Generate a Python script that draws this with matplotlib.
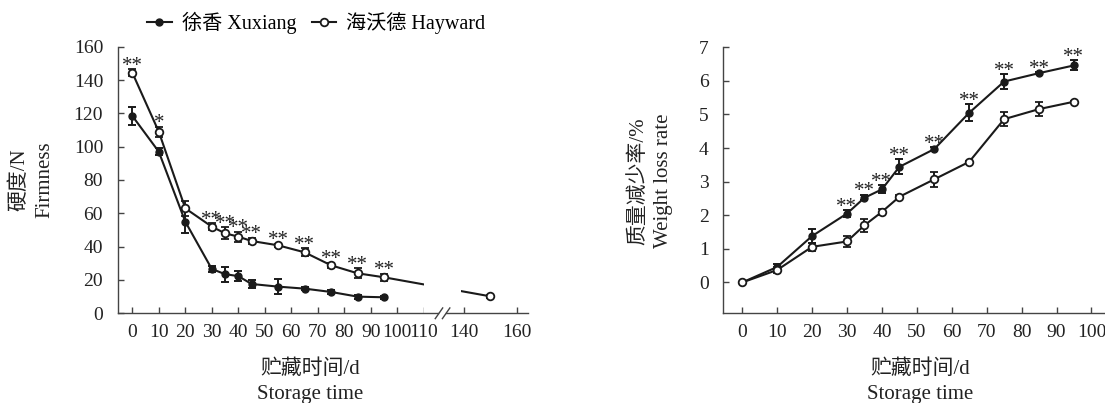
import numpy as np
import matplotlib
matplotlib.use("Agg")
import matplotlib.pyplot as plt

plt.rcParams['font.family'] = ['Liberation Serif', 'Noto Sans CJK SC']
plt.rcParams['axes.unicode_minus'] = False

# ---- firmness (left) ----
firm_days_x = [0, 10, 20, 30, 35, 40, 45, 55, 65, 75, 85, 95]
firm_xuxiang = [118.5, 97, 55, 26.6, 23.5, 22.3, 17.6, 16, 14.8, 12.8, 10, 9.6]
firm_xuxiang_err = [5.5, 2, 7, 2, 4.5, 3, 2.2, 4.4, 1, 1, 1.2, 1]

firm_days_h = [0, 10, 20, 30, 35, 40, 45, 55, 65, 75, 85, 95, 150]
firm_hayward = [144.5, 109, 63, 52, 48, 46, 43.4, 40.8, 36.6, 28.8, 24, 21.6, 10.2]
firm_hayward_err = [2, 3, 4.5, 2, 3.5, 3, 2, 1, 2.5, 1.5, 3, 2, 1]
firm_sig = ['**', '*', '', '**', '**', '**', '**', '**', '**', '**', '**', '**', '']

firm_ticks = [0, 10, 20, 30, 40, 50, 60, 70, 80, 90, 100, 110, 140, 160]

# ---- weight loss (right) ----
wl_days = [0, 10, 20, 30, 35, 40, 45, 55, 65, 75, 85, 95]
wl_xuxiang = [0, 0.46, 1.38, 2.05, 2.52, 2.77, 3.44, 3.97, 5.05, 5.98, 6.23, 6.46]
wl_xuxiang_err = [0.02, 0.1, 0.2, 0.1, 0.08, 0.12, 0.22, 0.05, 0.25, 0.22, 0.03, 0.15]
wl_hayward = [0, 0.37, 1.06, 1.22, 1.7, 2.1, 2.55, 3.07, 3.59, 4.86, 5.16, 5.38]
wl_hayward_err = [0.02, 0.1, 0.12, 0.15, 0.2, 0.1, 0.04, 0.22, 0.03, 0.2, 0.22, 0.03]
wl_sig = ['', '', '', '**', '**', '**', '**', '**', '**', '**', '**', '**']

# broken axis: days after the break are shifted left
BREAK_AT = 110
BREAK_SHIFT = 15


def to_plot(days):
    return [d if d <= BREAK_AT else d - BREAK_SHIFT for d in days]


INK = '#1a1a1a'
line_kw = dict(color=INK, lw=1.5, elinewidth=1.4, capsize=3, capthick=1.4)
filled_kw = dict(marker='o', ms=5, mfc=INK, mec=INK, **line_kw)
open_kw = dict(marker='o', ms=5.5, mfc='white', mec=INK, mew=1.3, **line_kw)


def style_axes(ax):
    ax.spines['top'].set_visible(False)
    ax.spines['right'].set_visible(False)
    for s in ('left', 'bottom'):
        ax.spines[s].set_color('#444444')
        ax.spines[s].set_linewidth(1.0)
    ax.tick_params(direction='in', length=4, width=1, colors='#444444',
                   labelcolor='#222222', labelsize=14)
    ax.tick_params(axis='x', pad=8)
    ax.tick_params(axis='y', pad=10.5)


def stars(ax, xs, ys, errs, labels):
    for x, y, e, s in zip(xs, ys, errs, labels):
        if s:
            ax.annotate(s, (x, y + e), xytext=(0, -1), textcoords='offset points',
                        ha='center', va='baseline', fontsize=15, color='#222222')


fig = plt.figure(figsize=(11.05, 4.03), dpi=100)

# ---------- left panel ----------
ax1 = fig.add_axes([0.1065, 0.2226, 0.3716, 0.6615])
eb_x = ax1.errorbar(to_plot(firm_days_x), firm_xuxiang, yerr=firm_xuxiang_err, **filled_kw)
eb_h = ax1.errorbar(to_plot(firm_days_h), firm_hayward, yerr=firm_hayward_err, **open_kw)
stars(ax1, to_plot(firm_days_h), firm_hayward, firm_hayward_err, firm_sig)

# hide the line inside the break
ax1.axvspan(BREAK_AT, BREAK_AT + 14, color='white', zorder=2.4, lw=0)

ax1.set_xlim(-5.5, 149.4)
ax1.set_ylim(0, 160)
ax1.set_yticks(np.arange(0, 161, 20))
ax1.set_xticks(to_plot(firm_ticks))
ax1.set_xticklabels([str(t) for t in firm_ticks])
style_axes(ax1)

# bottom spine with break marks
ax1.spines['bottom'].set_visible(False)
ax1.plot([-5.5, 115.5], [0, 0], color='#444444', lw=1.0, clip_on=False, zorder=3)
ax1.plot([118.5, 149.4], [0, 0], color='#444444', lw=1.0, clip_on=False, zorder=3)
for bx in (114.3, 117.0):
    ax1.plot([bx, bx + 2.8], [-3.2, 3.2], color='#444444', lw=1.0, clip_on=False, zorder=3)

fig.text(32 / 1105, 1 - 180 / 403, '硬度/N\nFirmness', rotation=90,
         ha='center', va='center', fontsize=15, linespacing=1.4, color='#222222')
fig.text(310 / 1105, 1 - 382 / 403, '贮藏时间/d\nStorage time',
         ha='center', va='center', fontsize=15, linespacing=1.45, color='#222222')

# ---------- right panel ----------
ax2 = fig.add_axes([0.6546, 0.2241, 0.3445, 0.6586])
ax2.errorbar(wl_days, wl_xuxiang, yerr=wl_xuxiang_err, **filled_kw)
ax2.errorbar(wl_days, wl_hayward, yerr=wl_hayward_err, **open_kw)
stars(ax2, wl_days, wl_xuxiang, wl_xuxiang_err, wl_sig)

ax2.set_xlim(-5.4, 103.6)
ax2.set_ylim(-0.9, 7)
ax2.set_yticks(range(0, 8))
ax2.set_xticks(range(0, 101, 10))
style_axes(ax2)

fig.text(651 / 1105, 1 - 181 / 403, '质量减少率/%\nWeight loss rate', rotation=90,
         ha='center', va='center', fontsize=15, linespacing=1.4, color='#222222')
fig.text(920 / 1105, 1 - 382 / 403, '贮藏时间/d\nStorage time',
         ha='center', va='center', fontsize=15, linespacing=1.45, color='#222222')

fig.legend(handles=[eb_x[0], eb_h[0]], labels=['徐香 Xuxiang', '海沃德 Hayward'],
           loc='center', bbox_to_anchor=(316.5 / 1105, 1 - 23 / 403), ncol=2,
           frameon=False, fontsize=14.5, handlelength=1.2, handletextpad=0.5,
           columnspacing=0.8, borderpad=0)

fig.savefig('out.png', dpi=100)
